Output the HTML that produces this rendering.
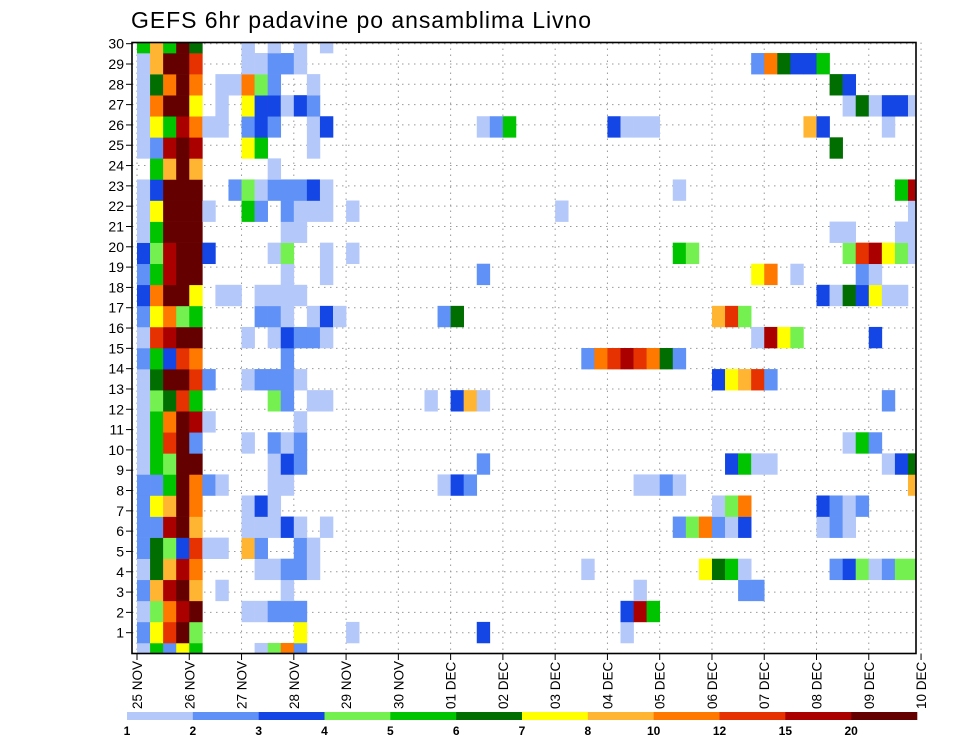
<!DOCTYPE html>
<html><head><meta charset="utf-8"><style>
html,body{margin:0;padding:0;background:#fff;}
svg{display:block;font-family:"Liberation Sans",sans-serif;}
</style></head><body>
<svg id="chart" width="960" height="742" viewBox="0 0 960 742" xmlns="http://www.w3.org/2000/svg">
<defs><clipPath id="plotclip"><rect x="132" y="42.5" width="784" height="611"/></clipPath></defs>
<text x="131" y="28" font-size="23" textLength="460" fill="#000">GEFS 6hr padavine po ansamblima Livno</text>
<g id="grid"></g>
<g id="cells" clip-path="url(#plotclip)"></g>
<rect x="132" y="42.5" width="784" height="611" fill="none" stroke="#000" stroke-width="1.6"/>
<g id="yaxis"></g>
<g id="xaxis"></g>
<g id="legend"></g>
</svg>
<script>
const dayLabels = ["25 NOV","26 NOV","27 NOV","28 NOV","29 NOV","30 NOV","01 DEC","02 DEC","03 DEC","04 DEC","05 DEC","06 DEC","07 DEC","08 DEC","09 DEC","10 DEC"];
const memberLabels = [1,2,3,4,5,6,7,8,9,10,11,12,13,14,15,16,17,18,19,20,21,22,23,24,25,26,27,28,29,30];
const levelLabels = ["1","2","3","4","5","6","7","8","10","12","15","20"];
const levelCodes = "abcdefghijkl";
const levelColors = ["#b4c8fa","#5f91f7","#1446e6","#74f050","#00c400","#006e00","#ffff00","#ffb432","#ff7800","#e63200","#aa0000","#640000"];
// per member row (bottom j=0 .. top j=29): "column+levelcode" entries, column = 6-hour step
const rowData = [
"0a 1e 2b 3g 4e 9a 10d 11i 12b",
"0b 1g 2j 3l 4d 12g 16a 26c 37a",
"0a 1d 2i 3k 4l 8a 9a 10b 11b 12b 37c 38k 39e",
"0b 1h 2k 3l 4h 6a 11a 38a 46b 47b",
"0a 1f 2h 3k 4i 9a 10a 11b 12b 13a 34a 43g 44f 45e 46a 53b 54c 55d 56a 57b 58d 59d",
"0b 1f 2d 3c 4j 5a 6a 8h 9b 12b 13a",
"0b 1b 2k 3l 4h 8a 9a 10a 11c 12a 14a 41b 42d 43i 44b 45a 46c 52a 53b 54a",
"0b 1g 2h 3l 4i 8a 9c 10a 44a 45d 46i 52c 53b 54a 55b",
"0b 1b 2e 3l 4i 5b 6a 10a 11a 23a 24c 25b 38a 39a 40b 41a 59h",
"0a 1e 2d 3l 4l 10a 11c 12b 26b 45c 46e 47a 48a 57a 58c 59f",
"0a 1e 2j 3l 4b 8a 10b 11a 12b 54a 55e 56b",
"0a 1e 2i 3l 4k 5a 12a",
"0a 1d 2f 3j 4e 10d 11b 13a 14a 22a 24c 25h 26a 57b",
"0a 1f 2l 3l 4j 5b 8a 9b 10b 11b 12a 44c 45g 46h 47j 48b",
"0b 1e 2c 3j 4i 11b 34b 35i 36j 37k 38j 39i 40f 41b",
"0a 1j 2k 3l 4l 8a 10a 11c 12b 13b 14a 47a 48k 49g 50d 56c",
"0b 1g 2i 3d 4e 9b 10b 11a 13a 14c 15a 23b 24f 44h 45j 46d",
"0c 1i 2l 3l 4g 6a 7a 9a 10a 11a 12a 52c 53a 54f 55c 56g 57a 58a",
"0b 1e 2k 3l 4l 11a 14a 26b 47g 48i 50a 55b 56a",
"0c 1d 2k 3l 4l 5c 10a 11d 14a 16a 41e 42d 54d 55j 56k 57g 58d 59a",
"0a 1e 2l 3l 4l 11a 12a 53a 54a 58a 59a",
"0a 1g 2l 3l 4l 5a 8e 9b 11b 12a 13a 14a 16a 32a 59a",
"0a 1c 2l 3l 4l 7b 8d 9a 10b 11b 12b 13c 14a 41a 58e 59k",
"1e 2h 3l 4h 10a",
"0a 1b 2k 3l 4k 8g 9e 13a 53f",
"0a 1g 2e 3k 4i 5a 6a 8b 9c 10b 13a 14c 26a 27b 28e 36c 37a 38a 39a 51h 52c 57a",
"0a 1i 2l 3l 4g 6a 8g 9c 10c 11a 12c 13b 54a 55f 56a 57c 58c 59a",
"0a 1f 2i 3l 4i 6a 7a 8i 9d 10b 13a 53f 54c",
"0a 1h 2l 3l 4j 8a 9a 10b 11b 12a 47b 48i 49f 50c 51c 52e",
"0e 1h 2e 3l 4f 8a 10a 12a 14a"
];
const NS="http://www.w3.org/2000/svg";
function mk(tag,attrs,parent){const e=document.createElementNS(NS,tag);for(const k in attrs)e.setAttribute(k,attrs[k]);parent.appendChild(e);return e;}
const X0=137, DAYW=52.27, COLW=DAYW/4;
const xScale = step => X0 + step*COLW;
const rowH = 611/29;
const yRow = j => 653.5 - j*rowH;
const yLabel = L => 653 - L*(589/29);
const grid=document.getElementById('grid'), cells=document.getElementById('cells');
const yax=document.getElementById('yaxis'), xax=document.getElementById('xaxis'), leg=document.getElementById('legend');
// grid
memberLabels.forEach(L=>{
  const l=mk('line',{x1:132,x2:916,y1:yLabel(L),y2:yLabel(L),stroke:'#999','stroke-width':1,'stroke-dasharray':'1.5,4.5'},grid);
  
  
});
dayLabels.forEach((d,i)=>{
  const l=mk('line',{x1:xScale(i*4),x2:xScale(i*4),y1:42.5,y2:653.5,stroke:'#999','stroke-width':1,'stroke-dasharray':'1.5,4.5'},grid);
  
  
});
// cells
rowData.forEach((row,j)=>{
  row.split(' ').forEach(tok=>{
    const m=tok.match(/^(\d+)([a-l])$/); if(!m) return;
    const col=+m[1], lv=levelCodes.indexOf(m[2]);
    const r=mk('rect',{x:xScale(col),y:yRow(j)-rowH/2,width:COLW+0.3,height:rowH+0.3,fill:levelColors[lv]},cells);
    
    
  });
});
// y axis
memberLabels.forEach(L=>{
  const y=yLabel(L);
  mk('line',{x1:126,x2:132,y1:y,y2:y,stroke:'#000','stroke-width':1},yax);
  const t=mk('text',{x:124,y:y+5,'text-anchor':'end','font-size':14,fill:'#000'},yax);
  t.textContent=L;
  
  
});
// x axis
dayLabels.forEach((d,i)=>{
  const x=xScale(i*4);
  mk('line',{x1:x,x2:x,y1:653.5,y2:660,stroke:'#000','stroke-width':1},xax);
  const t=mk('text',{x:0,y:0,'font-size':13.5,fill:'#000',transform:`translate(${x+5},709) rotate(-90)`},xax);
  t.textContent=d;
  
  
});
// legend
const LX0=127, LX1=917, LW=(LX1-LX0)/levelColors.length;
levelColors.forEach((c,i)=>{
  const r=mk('rect',{x:LX0+i*LW,y:712,width:LW+0.3,height:8,fill:c},leg);
  
  
  const t=mk('text',{x:LX0+i*LW,y:735,'text-anchor':'middle','font-size':12,'font-weight':'bold',fill:'#000'},leg);
  t.textContent=levelLabels[i];
  
  
});
</script>
</body></html>
